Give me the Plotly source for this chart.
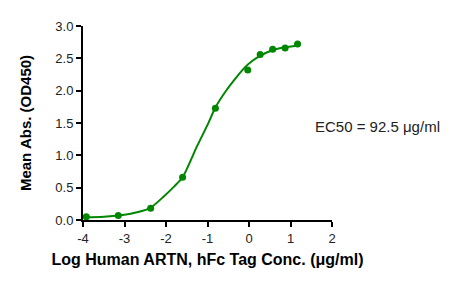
import plotly.graph_objects as go

# measured data points (log concentration, mean absorbance)
log_conc = [-3.92, -3.15, -2.37, -1.60, -0.81, -0.03, 0.27, 0.57, 0.87, 1.17]
mean_abs = [0.05, 0.07, 0.18, 0.66, 1.73, 2.32, 2.56, 2.64, 2.66, 2.72]

# fitted curve
curve_x = [-4.0, -3.5, -3.0, -2.7, -2.38, -2.06, -1.8, -1.6, -1.26, -1.0, -0.81, -0.54, -0.3, -0.1, 0.1, 0.3, 0.55, 0.85, 1.18]
curve_y = [0.04, 0.05, 0.08, 0.12, 0.185, 0.36, 0.52, 0.66, 1.13, 1.47, 1.74, 2.01, 2.21, 2.36, 2.47, 2.55, 2.62, 2.67, 2.70]

x_ticks = [-4, -3, -2, -1, 0, 1, 2]
y_ticks = [0.0, 0.5, 1.0, 1.5, 2.0, 2.5, 3.0]

green = "rgb(0,135,0)"
font = "Liberation Sans, Arial, sans-serif"

fig = go.Figure()
fig.add_trace(go.Scatter(x=curve_x, y=curve_y, mode="lines",
                         line=dict(color=green, width=2, shape="spline", smoothing=0.6),
                         cliponaxis=False, hoverinfo="skip"))
fig.add_trace(go.Scatter(x=log_conc, y=mean_abs, mode="markers",
                         marker=dict(color=green, size=7),
                         cliponaxis=False))

fig.update_layout(
    width=466, height=283,
    margin=dict(l=83, r=134, t=26, b=63),
    paper_bgcolor="white", plot_bgcolor="white",
    showlegend=False,
    font=dict(family=font, color="#222222", size=13),
    xaxis=dict(range=[-4, 2], tickvals=x_ticks, ticktext=[str(v) for v in x_ticks],
               showgrid=False, zeroline=False, showline=True, linecolor="black", linewidth=2,
               ticks="outside", ticklen=5, tickwidth=2, tickcolor="black",
               tickfont=dict(size=13, color="#222222"),
               title=dict(text="<b>Log Human ARTN, hFc Tag Conc. (μg/ml)</b>",
                          font=dict(size=16, color="black"), standoff=9)),
    yaxis=dict(range=[0, 3], tickvals=y_ticks, ticktext=[f"{v:.1f}" for v in y_ticks],
               showgrid=False, zeroline=False, showline=True, linecolor="black", linewidth=2,
               ticks="outside", ticklen=5, tickwidth=2, tickcolor="black",
               tickfont=dict(size=13, color="#222222"),
               title=dict(text="<b>Mean Abs. (OD450)</b>",
                          font=dict(size=15, color="black"), standoff=20)),
    annotations=[dict(text="EC50 = 92.5 μg/ml", xref="paper", yref="paper",
                      x=0.925, y=0.48, xanchor="left", yanchor="middle", showarrow=False,
                      font=dict(size=15, color="#222222", family=font))],
)

fig.write_html("out.html")
